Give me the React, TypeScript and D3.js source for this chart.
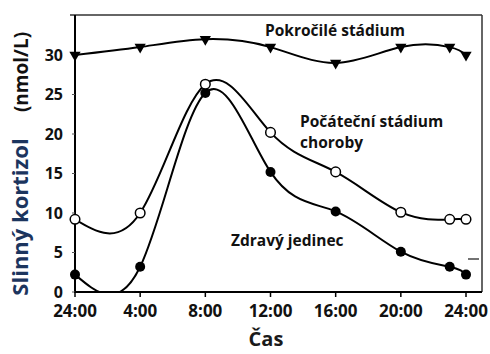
import React from 'react';
import * as d3 from 'd3';

// hours since midnight (0 = 24:00 of the previous day)
const hours = [0, 4, 8, 12, 16, 20, 23, 24];
const advanced = [30, 31, 32, 31, 29, 31, 31, 30];
const early = [9.2, 10, 26.3, 20.2, 15.2, 10.1, 9.2, 9.2];
const healthy = [2.2, 3.2, 25.2, 15.2, 10.2, 5.1, 3.2, 2.2];

const xTicks = [0, 4, 8, 12, 16, 20, 24];
const xTickLabels = ['24:00', '4:00', '8:00', '12:00', '16:00', '20:00', '24:00'];
const yTicks = [0, 5, 10, 15, 20, 25, 30];

const W = 490;
const H = 354;
const plot = { left: 75, right: 482, top: 15, bottom: 292 };
const font = '"Open Sans", sans-serif';
const ink = '#111';

const x = d3.scaleLinear().domain([0, 24]).range([75, 466]);
const y = d3.scaleLinear().domain([0, 30]).range([plot.bottom, 55]);

const line = d3
  .line<number>()
  .x((_, i) => x(hours[i]))
  .y((d) => y(d))
  .curve(d3.curveNatural);

const tri = d3.symbol(d3.symbolTriangle, 55)();

const App = () => {
  return (
    <svg
      width={W}
      height={H}
      style={{ position: 'absolute', left: 0, top: 0, background: '#fff' }}
      fontFamily={font}
    >
      <defs>
        <clipPath id="plotClip">
          <rect x={plot.left} y={plot.top} width={plot.right - plot.left} height={plot.bottom - plot.top} />
        </clipPath>
      </defs>

      {/* frame */}
      <line x1={70} x2={plot.right} y1={plot.top} y2={plot.top} stroke="#333" strokeWidth={1.5} />
      <line x1={plot.right} x2={plot.right} y1={plot.top} y2={plot.bottom} stroke="#333" strokeWidth={1.5} />
      <line x1={plot.left} x2={plot.left} y1={plot.top} y2={plot.bottom + 1} stroke="#000" strokeWidth={2} />
      <line x1={plot.left} x2={plot.right} y1={plot.bottom} y2={plot.bottom} stroke="#000" strokeWidth={2} />
      <line x1={468} x2={479} y1={259} y2={259} stroke="#444" strokeWidth={1.5} />

      {/* y axis */}
      {yTicks.map((t) => (
        <g key={'y' + t}>
          <line x1={plot.left - 3} x2={plot.left} y1={y(t)} y2={y(t)} stroke="#555" strokeWidth={1} />
          <text x={63} y={y(t) + 5.5} textAnchor="end" fontSize={16} fontWeight={700} fill={ink}>
            {t}
          </text>
        </g>
      ))}

      {/* x axis */}
      {xTicks.map((t, i) => (
        <g key={'x' + i}>
          <line x1={x(t)} x2={x(t)} y1={plot.bottom} y2={plot.bottom + 5} stroke="#000" strokeWidth={1.5} />
          <text x={x(t)} y={317} textAnchor="middle" fontSize={17} fontWeight={700} fill={ink}>
            {xTickLabels[i]}
          </text>
        </g>
      ))}

      <text x={266} y={346} textAnchor="middle" fontSize={20} fontWeight={700} fill="#1a1a1a">
        Čas
      </text>

      <text transform="translate(28,217) rotate(-90)" textAnchor="middle" fontSize={22} fontWeight={700} fill="#1c355e">
        Slinný kortizol
      </text>
      <text transform="translate(28,72) rotate(-90)" textAnchor="middle" fontSize={19} fontWeight={700} fill={ink}>
        (nmol/L)
      </text>

      {/* series */}
      <g clipPath="url(#plotClip)" fill="none" stroke="#000" strokeWidth={2}>
        <path d={line(advanced) || ''} />
        <path d={line(healthy) || ''} />
        <path d={line(early) || ''} />
      </g>

      {advanced.map((v, i) => (
        <path key={'a' + i} d={tri || ''} transform={`translate(${x(hours[i])},${y(v)}) rotate(180)`} fill="#000" />
      ))}
      {healthy.map((v, i) => (
        <circle key={'h' + i} cx={x(hours[i])} cy={y(v)} r={5} fill="#000" />
      ))}
      {early.map((v, i) => (
        <circle key={'e' + i} cx={x(hours[i])} cy={y(v)} r={4.8} fill="#fff" stroke="#000" strokeWidth={1.5} />
      ))}

      {/* series labels */}
      <g fontSize={15.5} fontWeight={700} fill={ink}>
        <text x={265} y={36}>Pokročilé stádium</text>
        <text x={300} y={127}>Počáteční stádium</text>
        <text x={300} y={148}>choroby</text>
        <text x={231} y={246}>Zdravý jedinec</text>
      </g>
    </svg>
  );
};

export default App;
